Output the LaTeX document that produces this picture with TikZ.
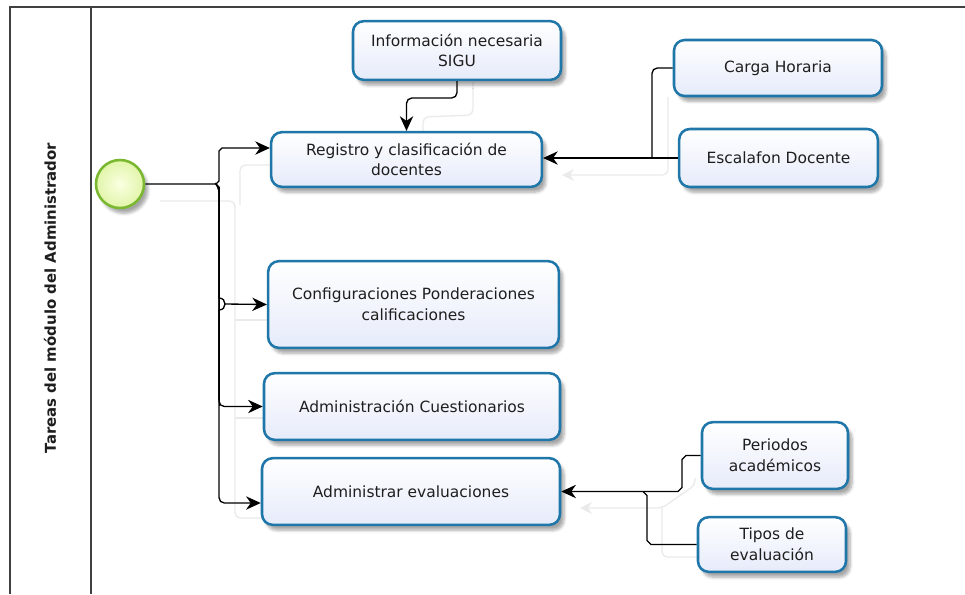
\documentclass[tikz,border=0pt]{standalone}
\usepackage{fontspec}
\setmainfont{DejaVu Sans}
\usetikzlibrary{arrows.meta,shadows.blur,calc}
\definecolor{boxblue}{RGB}{31,118,168}
\definecolor{boxfill}{RGB}{230,235,250}
\definecolor{startgreen}{RGB}{122,184,48}
\definecolor{ghost}{RGB}{234,234,234}
\definecolor{txt}{RGB}{30,30,30}
\tikzset{
  taskbox/.style={draw=boxblue, line width=1.9pt, rounded corners=8pt,
    top color=white, bottom color=boxfill, align=center, text=txt,
    font=\fontsize{11.6}{15.5}\selectfont, inner sep=2pt,
    blur shadow={shadow xshift=3pt, shadow yshift=-4pt, shadow blur steps=6, shadow opacity=35}},
  conn/.style={draw=black, line width=1pt, -{Stealth[length=11pt,width=10pt,inset=3.5pt]}},
  plain/.style={draw=black, line width=1pt},
  ghostline/.style={draw=ghost, line width=1pt},
  ghostarrow/.style={draw=ghost, line width=1pt, -{Stealth[length=9pt,width=9pt,inset=3pt]}},
  poolline/.style={draw=black!75, line width=1.1pt}
}
\begin{document}
\begin{tikzpicture}[x=0.75pt,y=-0.75pt]
\useasboundingbox (0,0) rectangle (965,594);
% pool
\draw[poolline] (10,594) -- (10,7) -- (965,7);
\draw[poolline] (91,7) -- (91,594);
\node[rotate=90, font=\bfseries\fontsize{11.2}{13}\selectfont, text=txt] (lane) at (50,298) {Tareas del módulo del Administrador};

% start event
\node[circle, draw=startgreen, line width=1.9pt, minimum size=36pt, inner sep=0pt,
  inner color={rgb,255:red,250;green,255;blue,225}, outer color={rgb,255:red,225;green,245;blue,170},
  blur shadow={shadow xshift=3pt, shadow yshift=-4pt, shadow blur steps=6, shadow opacity=35}] (start) at (120,184) {};

% ghost lines (faint)
\draw[ghostline, rounded corners=4] (160,201) -- (235,201) -- (235,518) -- (262,518);
\draw[ghostline, rounded corners=4] (235,320) -- (268,320);
\draw[ghostline, rounded corners=4] (235,418) -- (264,418);
\draw[ghostline, rounded corners=4] (240,205) -- (240,165) -- (271,165);
\draw[ghostline, rounded corners=4] (473,82) -- (473,115) -- (423,117) -- (423,132);
\draw[ghostarrow, rounded corners=4] (668,97) -- (668,175) -- (562,175);
\draw[ghostarrow, rounded corners=4] (695,478) -- (695,485) -- (662,508) -- (580,508);
\draw[ghostline, rounded corners=4] (662,508) -- (662,557) -- (697,557);

% tasks
\node[taskbox, minimum width=156pt, minimum height=44pt] (info) at (457,50.5) {Información necesaria\\SIGU};
\node[taskbox, minimum width=203pt, minimum height=41pt] (reg) at (406.5,159.5) {Registro y clasificación de\\docentes};
\node[taskbox, minimum width=156pt, minimum height=42pt] (carga) at (778,68) {Carga Horaria};
\node[taskbox, minimum width=149pt, minimum height=43.5pt] (esc) at (778.5,158) {Escalafon Docente};
\node[taskbox, minimum width=218pt, minimum height=65pt] (conf) at (413.5,304.5) {Configuraciones Ponderaciones\\calificaciones};
\node[taskbox, minimum width=222pt, minimum height=50pt] (admc) at (412,406.5) {Administración Cuestionarios};
\node[taskbox, minimum width=223.5pt, minimum height=50pt] (adme) at (411,491.5) {Administrar evaluaciones};
\node[taskbox, minimum width=109.5pt, minimum height=50pt] (per) at (775,455.5) {Periodos\\académicos};
\node[taskbox, minimum width=111pt, minimum height=41pt] (tip) at (772,544.5) {Tipos de\\evaluación};

% junction coordinates
\coordinate (j0) at (216,184);
\coordinate (jc) at (652,158);
\coordinate (jp) at (643,491.5);

% start -> registro
\draw[conn] (start.east) -- (j0) -- (219,181) -- (219,151) -- (222,148) -- ($(reg.west)+(0,-11.5)$);
% start -> configuraciones (with hop)
\draw[plain] (j0) -- (219,187) -- (219,298) .. controls (227,298) and (227,310) .. (219,310) -- (219,400);
\draw[conn] (225,304) -- (conf.west);
% start -> cuestionarios
\draw[conn, rounded corners=4] (j0) -- (219,187) -- (219,406.5) -- (admc.west);
% start -> evaluaciones
\draw[conn, rounded corners=4] (j0) -- (219,187) -- (219,503) -- ($(adme.west)+(0,11.5)$);
\draw[draw=black, line width=0.7pt] (219,187) -- (219,406);

% info -> registro
\draw[conn, rounded corners=4] (info.south) -- (457,98) -- (406.5,98) -- (reg.north);
% escalafon -> registro
\draw[conn] (esc.west) -- (reg.east |- esc.west);
% carga -> registro
\draw[plain, rounded corners=4] (carga.west) -| (jc);

% periodos -> evaluaciones
\draw[conn] (per.west) -- (686,455.5) -- (682,459.5) -- (682,487.5) -- (678,491.5) -- (adme.east);
% tipos -> evaluaciones
\draw[plain] (tip.west) -- (651,544.5) -- (647,540.5) -- (647,495.5) -- (jp);
\end{tikzpicture}
\end{document}
